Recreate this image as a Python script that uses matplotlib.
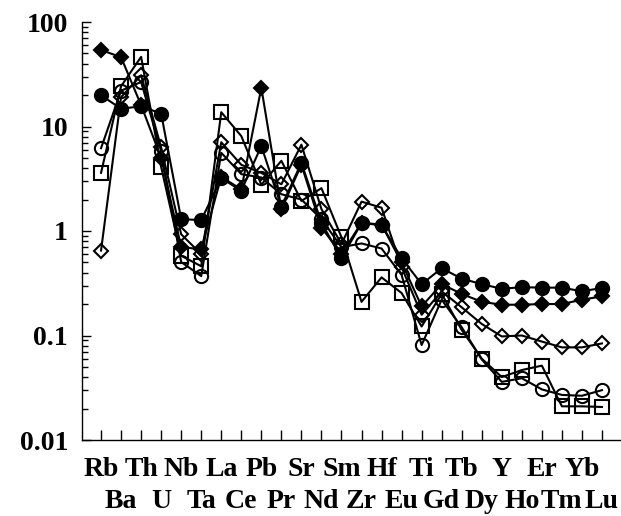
import numpy as np
import matplotlib
matplotlib.use("Agg")
import matplotlib.pyplot as plt
from matplotlib.ticker import FixedLocator, LogLocator, NullFormatter

# ---------- Data (normalised concentrations) ----------
elements = ["Rb", "Ba", "Th", "U", "Nb", "Ta", "La", "Ce", "Pb", "Pr", "Sr", "Nd", "Sm",
            "Zr", "Hf", "Eu", "Ti", "Gd", "Tb", "Dy", "Y", "Ho", "Er", "Tm", "Yb", "Lu"]

open_diamond = [0.65, 19.1, 30.9, 6.3, 0.93, 0.6, 7.07, 4.3, 3.6, 2.8, 6.7, 1.62, 0.75,
                1.91, 1.67, 0.45, 0.158, 0.265, 0.186, 0.129, 0.098, 0.10, 0.0875, 0.077, 0.077, 0.084]
open_circle = [6.2, 22.0, 26.7, 5.8, 0.505, 0.37, 5.6, 3.5, 3.25, 2.25, 2.0, 1.3, 0.7,
               0.76, 0.68, 0.38, 0.081, 0.22, 0.12, 0.059, 0.036, 0.039, 0.0305, 0.027, 0.0265, 0.030]
open_square = [3.6, 24.3, 46.4, 4.1, 0.58, 0.46, 13.7, 8.1, 2.77, 4.7, 1.94, 2.57, 0.87,
               0.21, 0.36, 0.255, 0.122, 0.25, 0.113, 0.06, 0.040, 0.0467, 0.0515, 0.021, 0.021, 0.0207]
filled_diamond = [54, 46, 16, 5.0, 0.70, 0.67, 3.3, 2.5, 23.5, 1.62, 4.3, 1.08, 0.6,
                  1.2, 1.15, 0.5, 0.19, 0.31, 0.25, 0.21, 0.197, 0.197, 0.2, 0.2, 0.22, 0.237]
filled_circle = [19.9, 14.8, 15.6, 13.3, 1.30, 1.27, 3.2, 2.43, 6.5, 1.71, 4.5, 1.2, 0.55,
                 1.19, 1.14, 0.55, 0.31, 0.44, 0.35, 0.31, 0.28, 0.29, 0.287, 0.287, 0.265, 0.285]

yticks = [0.01, 0.1, 1, 10, 100]
ytick_labels = ["0.01", "0.1", "1", "10", "100"]

# ---------- Plot ----------
plt.rcParams['font.family'] = ['Liberation Serif', 'DejaVu Serif']
fig = plt.figure(figsize=(6.21, 5.16), dpi=100)
ax = fig.add_axes([82 / 621, 1 - 440 / 516, 1 - 82 / 621, (440 - 22) / 516])

x = np.arange(len(elements))
series = [
    (open_diamond, "D", "none", 7.5),
    (open_circle, "o", "none", 9.5),
    (open_square, "s", "none", 9.5),
    (filled_diamond, "D", "black", 7.5),
    (filled_circle, "o", "black", 9.5),
]
for vals, mk, fc, ms in series:
    ax.plot(x, vals, color="black", lw=1.5, marker=mk, markersize=ms,
            markerfacecolor=fc, markeredgecolor="black", markeredgewidth=1.5)

ax.set_yscale("log")
ax.set_ylim(0.01, 100)
ax.set_xlim(-0.95, 25.95)

ax.yaxis.set_major_locator(FixedLocator(yticks))
ax.set_yticklabels(ytick_labels)
ax.yaxis.set_minor_locator(LogLocator(base=10, subs=np.arange(2, 10)))
ax.yaxis.set_minor_formatter(NullFormatter())

# two staggered rows of element names: even ones on top row, odd ones below
ax.set_xticks(x[0::2], labels=elements[0::2])
ax.set_xticks(x[1::2], labels=elements[1::2], minor=True)

for s in ["top", "right"]:
    ax.spines[s].set_visible(False)
for s in ["left", "bottom"]:
    ax.spines[s].set_linewidth(1.0)

ax.tick_params(axis="x", which="major", direction="in", length=7, width=1.0, pad=12)
ax.tick_params(axis="x", which="minor", direction="in", length=7, width=1.0, pad=35)
ax.tick_params(axis="y", which="major", direction="in", length=6.5, width=1.0, pad=10)
ax.tick_params(axis="y", which="minor", direction="in", length=4, width=1.0)
for lab in (ax.get_xticklabels() + ax.get_xticklabels(minor=True)
            + ax.get_yticklabels()):
    lab.set_fontsize(20)
    lab.set_fontweight("bold")

fig.savefig("out.png", dpi=100)
